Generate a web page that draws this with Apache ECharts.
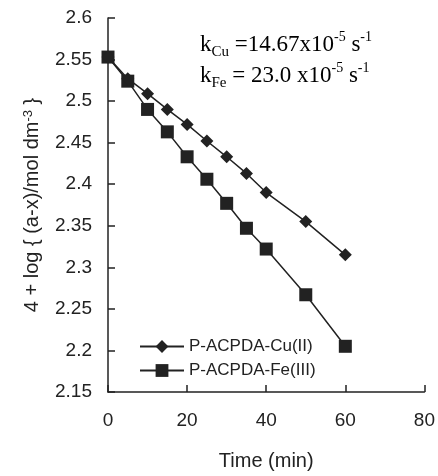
<!DOCTYPE html>
<html><head><meta charset="utf-8">
<script src="https://cdn.jsdelivr.net/npm/echarts@6/dist/echarts.min.js"></script>
<style>html,body{margin:0;padding:0;background:#fff}#c{width:438px;height:476px}</style>
</head><body><div id="c"></div>
<script>
const timeCu = [0, 5, 10, 15, 20, 25, 30, 35, 40, 50, 60];
const valCu  = [2.553, 2.527, 2.509, 2.490, 2.472, 2.452, 2.433, 2.413, 2.390, 2.355, 2.315];
const timeFe = [0, 5, 10, 15, 20, 25, 30, 35, 40, 50, 60];
const valFe  = [2.553, 2.524, 2.490, 2.463, 2.433, 2.406, 2.377, 2.347, 2.322, 2.267, 2.205];
const seriesNames = ['P-ACPDA-Cu(II)', 'P-ACPDA-Fe(III)'];
const xTicks = [0, 20, 40, 60, 80];
const yTicks = [2.15, 2.2, 2.25, 2.3, 2.35, 2.4, 2.45, 2.5, 2.55, 2.6];

const chart = echarts.init(document.getElementById('c'));
const sans = '"Liberation Sans", Arial, sans-serif';
const serif = '"Liberation Serif", "Times New Roman", serif';
const ink = '#222';
const richK = {
  n: {fontFamily: serif, fontSize: 23, color: ink, lineHeight: 30, verticalAlign: 'middle'},
  sub: {fontFamily: serif, fontSize: 15, color: ink, lineHeight: 16, verticalAlign: 'bottom'},
  sup: {fontFamily: serif, fontSize: 14, color: ink, lineHeight: 18, verticalAlign: 'top'}
};
chart.setOption({
  animation: false,
  backgroundColor: '#fff',
  grid: {left: 108, right: 13, top: 18, bottom: 84},
  legend: {
    orient: 'vertical', left: 139, top: 338, itemGap: 7, padding: 0,
    itemWidth: 44, itemHeight: 16,
    textStyle: {fontFamily: sans, fontSize: 17, color: ink},
    data: seriesNames
  },
  xAxis: {
    type: 'value', min: xTicks[0], max: xTicks[xTicks.length-1], interval: 20,
    name: 'Time (min)', nameLocation: 'middle', nameGap: 59,
    nameTextStyle: {fontFamily: sans, fontSize: 20, color: ink},
    axisLine: {lineStyle: {color: ink, width: 1.5}},
    axisTick: {inside: true, length: 7, lineStyle: {color: ink, width: 1.5}},
    axisLabel: {fontFamily: sans, fontSize: 19, color: ink, margin: 19},
    splitLine: {show: false}
  },
  yAxis: {
    type: 'value', min: yTicks[0], max: yTicks[yTicks.length-1], interval: 0.05,
    name: '4 + log { (a-x)/mol dm{sup|-3} }', nameLocation: 'middle', nameGap: 66, nameRotate: 90,
    nameTextStyle: {fontFamily: sans, fontSize: 20, color: ink,
      rich: {sup: {fontFamily: sans, fontSize: 13, color: ink, verticalAlign: 'top', lineHeight: 14}}},
    axisLine: {show: true, lineStyle: {color: ink, width: 1.5}},
    axisTick: {show: true, inside: true, length: 7, lineStyle: {color: ink, width: 1.5}},
    axisLabel: {fontFamily: sans, fontSize: 19, color: ink, margin: 16,
      formatter: v => String(+v.toFixed(2))},
    splitLine: {show: false}
  },
  series: [
    {name: seriesNames[0], type: 'line', data: timeCu.map((t,i)=>[t,valCu[i]]),
     symbol: 'diamond', symbolSize: 13, lineStyle: {color: ink, width: 1.5},
     itemStyle: {color: ink}, z: 3},
    {name: seriesNames[1], type: 'line', data: timeFe.map((t,i)=>[t,valFe[i]]),
     symbol: 'rect', symbolSize: 13, lineStyle: {color: ink, width: 1.5},
     itemStyle: {color: ink}, z: 2}
  ],
  graphic: [
    {type: 'text', left: 200, top: 30, style: {
      text: '{n|k}{sub|Cu}{n| =14.67x10}{sup|-5}{n| s}{sup|-1}', rich: richK}},
    {type: 'text', left: 200, top: 61, style: {
      text: '{n|k}{sub|Fe}{n| = 23.0 x10}{sup|-5}{n| s}{sup|-1}', rich: richK}}
  ]
});
</script></body></html>
